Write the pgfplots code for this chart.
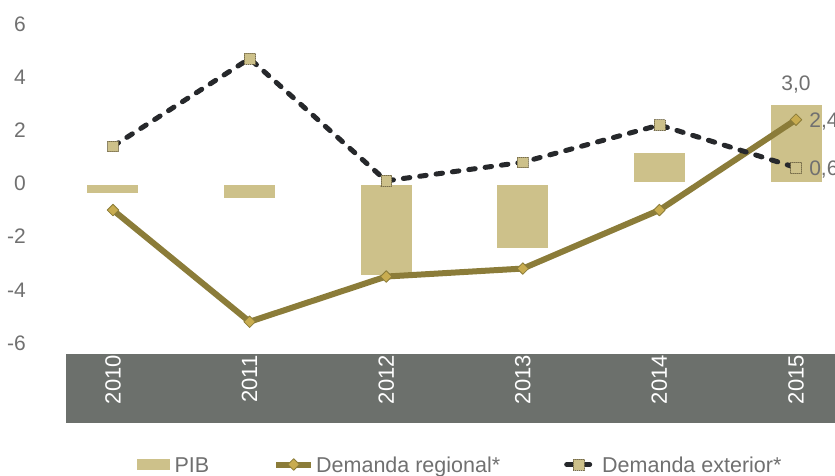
\documentclass[border=0pt]{standalone}
\usepackage{fontspec}
\setmainfont{Liberation Sans}
\usepackage{pgfplots}
\pgfplotsset{compat=1.18}
\definecolor{barcol}{RGB}{205,193,138}
\definecolor{regcol}{RGB}{139,124,57}
\definecolor{diamcol}{RGB}{200,172,80}
\definecolor{extcol}{RGB}{38,40,43}
\definecolor{bandcol}{RGB}{108,112,108}
\definecolor{txtgray}{RGB}{112,112,112}
\definecolor{sqborder}{RGB}{120,110,75}
\tikzset{
  regmark/.style={mark=square*, mark size=4.1pt, mark options={rotate=45, solid, fill=diamcol, draw=regcol, line width=0.8pt}},
  extmark/.style={mark=square*, mark size=5.4pt, mark options={solid, fill=barcol, draw=sqborder, line width=0.6pt, dash pattern=on 1pt off 1pt}},
}
\begin{document}
\begin{tikzpicture}
\useasboundingbox (0pt,0pt) rectangle (835pt,476pt);
\clip (0pt,0pt) rectangle (835pt,476pt);
\fill[bandcol] (66pt,52.7pt) rectangle (850pt,122pt);
\begin{axis}[
  at={(66pt,133pt)}, anchor=south west,
  scale only axis, width=777pt, height=319pt,
  xmin=-0.344, xmax=5.344, ymin=-6, ymax=6,
  clip=false,
  axis line style={draw=none},
  tick style={draw=none},
  major tick length=0pt,
  xtick={0,1,2,3,4,5},
  xticklabels={2010,2011,2012,2013,2014,2015},
  ytick={-6,-4,-2,0,2,4,6},
  yticklabels={-6,-4,-2,0,2,4,6},
  yticklabel style={font=\fontsize{21}{25}\selectfont, text=txtgray, anchor=east, inner sep=0pt, xshift=-40pt},
  xticklabel style={font=\fontsize{22}{26}\selectfont, text=white, yshift=-12pt, rotate=90, anchor=east, inner sep=0pt},
  legend columns=3,
  legend cell align=left,
  legend style={at={(0.09138,-0.3809)}, anchor=west, draw=none, fill=none,
    inner sep=0pt, outer sep=0pt, font=\fontsize{21.5}{25}\selectfont, text=txtgray,
    /tikz/every odd column/.style={column sep=0pt},
    /tikz/every even column/.style={column sep=0pt},
    nodes={inner sep=0pt, outer sep=0pt, text height=15.4pt, text depth=0pt}},
]
% PIB bars
\addplot[ybar, bar width=54pt, bar shift=0pt, fill=barcol, draw=white, line width=3pt,
  point meta=explicit symbolic, nodes near coords,
  every node near coord/.style={font=\fontsize{21}{25}\selectfont, text=txtgray, anchor=south, inner sep=0pt, yshift=9pt},
  legend image code/.code={\fill[barcol] (0pt,-3.8pt) rectangle (30pt,3.8pt); \path (0pt,0pt) (34.5pt,0pt);}]
  coordinates {(0,-0.4) [] (1,-0.6) [] (2,-3.5) [] (3,-2.5) [] (4,1.2) [] (5,3.0) [{3,0}]};
% Demanda regional
\addplot[regcol, line width=6pt, line join=round, regmark,
  point meta=explicit symbolic, nodes near coords,
  every node near coord/.style={font=\fontsize{21}{25}\selectfont, text=txtgray, anchor=base west, inner sep=0pt, xshift=13pt, yshift=-7.5pt},
  legend image code/.code={\draw[regcol, line width=6pt, regmark, mark repeat=2, mark phase=2] plot coordinates {(64pt,0pt) (81.5pt,0pt) (99pt,0pt)}; \path (0pt,0pt) (101pt,0pt);}]
  coordinates {(0,-1.0) [] (1,-5.2) [] (2,-3.5) [] (3,-3.2) [] (4,-1.0) [] (5,2.4) [{2,4}]};
% Demanda exterior
\addplot[extcol, line width=5pt, line cap=round, line join=round, dash pattern=on 6.5pt off 10pt,
  extmark,
  point meta=explicit symbolic, nodes near coords,
  every node near coord/.style={font=\fontsize{21}{25}\selectfont, text=txtgray, anchor=base west, inner sep=0pt, xshift=13pt, yshift=-7.5pt},
  legend image code/.code={\draw[extcol, line width=5pt, line cap=round, extmark, mark repeat=2, mark phase=2] plot coordinates {(64pt,0pt) (76pt,0pt) (88pt,0pt)}; \path (0pt,0pt) (97pt,0pt);}]
  coordinates {(0,1.4) [] (1,4.7) [] (2,0.1) [] (3,0.8) [] (4,2.2) [] (5,0.6) [{0,6}]};
\legend{PIB, Demanda regional*, Demanda exterior*}
\end{axis}
\end{tikzpicture}
\end{document}
